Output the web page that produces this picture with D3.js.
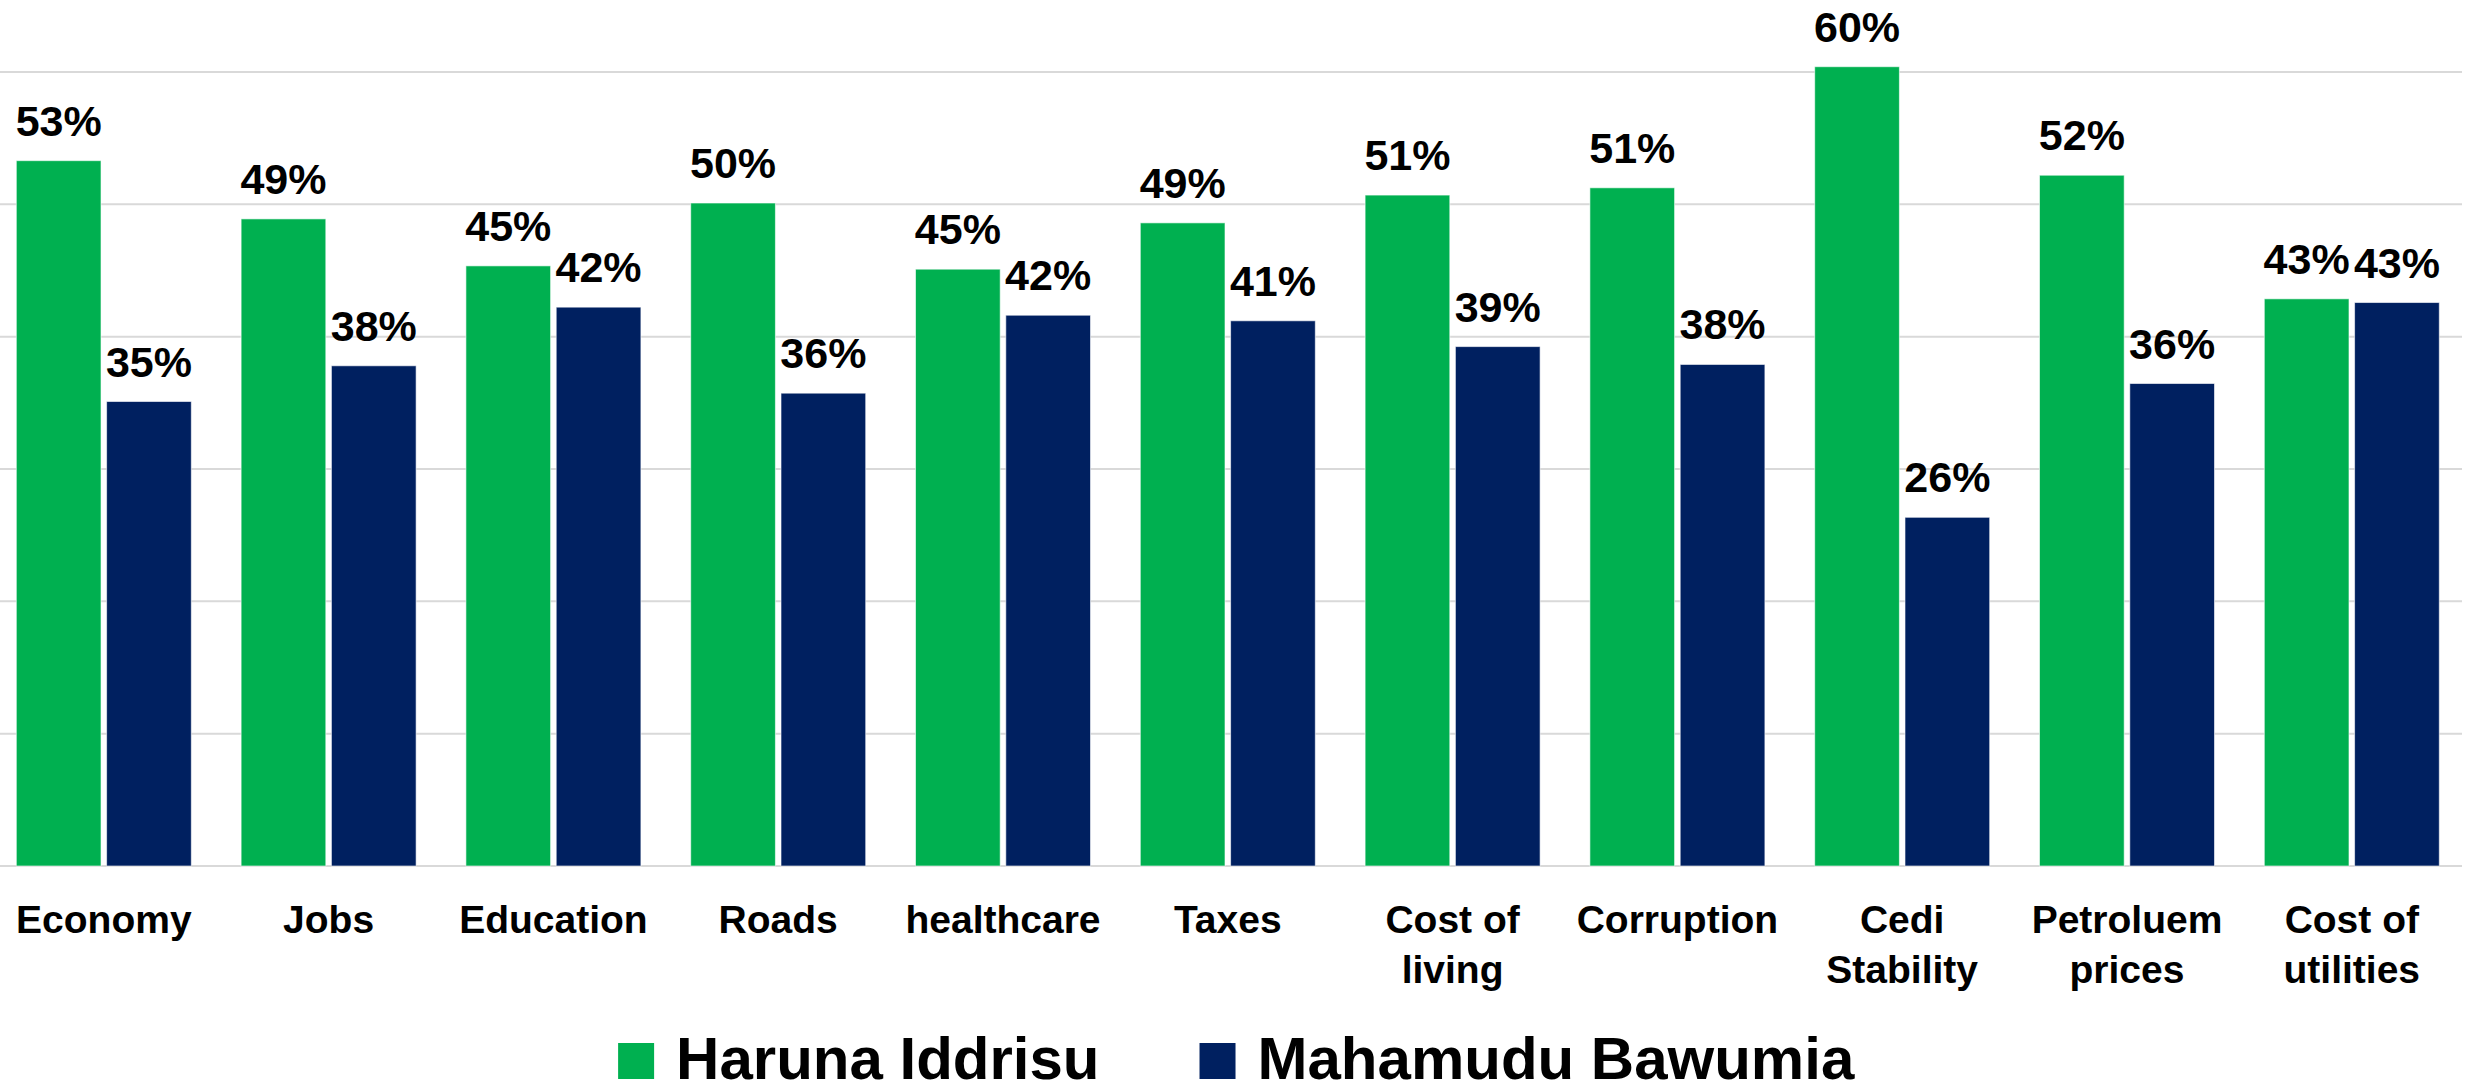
<!DOCTYPE html>
<html>
<head>
<meta charset="utf-8">
<script src="https://cdn.jsdelivr.net/npm/d3@7"></script>
<style>
  body { margin: 0; background: #fff; }
  text { font-family: "Liberation Sans", Arial, sans-serif; font-weight: bold; fill: #000; }
</style>
</head>
<body>
<div id="chart"></div>
<script>
const categories = ["Economy", "Jobs", "Education", "Roads", "healthcare", "Taxes",
    "Cost of living", "Corruption", "Cedi Stability", "Petroluem prices", "Cost of utilities"];
const seriesNames = ["Haruna Iddrisu", "Mahamudu Bawumia"];
const haruna = [0.533, 0.489, 0.4535, 0.501, 0.451, 0.486, 0.507, 0.5125, 0.604, 0.522, 0.4286];
const bawumia = [0.351, 0.378, 0.4223, 0.3573, 0.4162, 0.412, 0.3925, 0.379, 0.2635, 0.3646, 0.4258];
const gridTicks = [0, 0.1, 0.2, 0.3, 0.4, 0.5, 0.6];
const colors = ["#00B050", "#002060"];

const W = 2465, H = 1084;

const svg = d3.select("#chart")
    .append("svg")
    .attr("width", W)
    .attr("height", H);

// chart is cropped a bit on the left, so range starts below 0
const x0 = d3.scaleBand()
    .domain(categories)
    .range([-8.6, 2464.2])
    .paddingInner(0.2215)
    .paddingOuter(0.1108);

const x1 = d3.scaleBand()
    .domain(seriesNames)
    .range([0, x0.bandwidth()])
    .paddingInner(0.062);

const y = d3.scaleLinear()
    .domain([0, 0.6])
    .range([866, 72]);

const color = d3.scaleOrdinal().domain(seriesNames).range(colors);
const fmt = d3.format(".0%");

const data = categories.map((c, i) => ({
    cat: c,
    values: [
        { name: seriesNames[0], value: haruna[i] },
        { name: seriesNames[1], value: bawumia[i] }
    ]
}));

// gridlines
svg.append("g")
    .selectAll("line")
    .data(gridTicks)
    .join("line")
    .attr("x1", 0)
    .attr("x2", 2462)
    .attr("y1", d => y(d))
    .attr("y2", d => y(d))
    .attr("stroke", "#d9d9d9")
    .attr("stroke-width", 2);

const groups = svg.append("g")
    .selectAll("g")
    .data(data)
    .join("g")
    .attr("transform", d => `translate(${x0(d.cat)},0)`);

groups.selectAll("rect")
    .data(d => d.values)
    .join("rect")
    .attr("x", d => x1(d.name))
    .attr("y", d => y(d.value))
    .attr("width", x1.bandwidth())
    .attr("height", d => y(0) - y(d.value))
    .attr("fill", d => color(d.name))
    .attr("stroke", "#ffffff")
    .attr("stroke-opacity", 0.6)
    .attr("stroke-width", 1);

groups.selectAll("text.val")
    .data(d => d.values)
    .join("text")
    .attr("class", "val")
    .attr("x", d => x1(d.name) + x1.bandwidth() / 2)
    .attr("y", d => y(d.value) - 25)
    .attr("text-anchor", "middle")
    .style("font-size", "43px")
    .text(d => fmt(d.value));

// category labels, wrapped to the band step
const maxW = x0.step() - 12;
const catLabels = svg.append("g")
    .selectAll("text")
    .data(categories)
    .join("text")
    .attr("x", d => x0(d) + x0.bandwidth() / 2)
    .attr("y", 933)
    .attr("text-anchor", "middle")
    .style("font-size", "39px");

catLabels.each(function(d) {
    const t = d3.select(this);
    const words = d.split(" ");
    let line = [];
    let lineNo = 0;
    let tspan = t.append("tspan").attr("x", t.attr("x")).attr("dy", 0);
    words.forEach(w => {
        line.push(w);
        tspan.text(line.join(" "));
        if (tspan.node().getComputedTextLength() > maxW && line.length > 1) {
            line.pop();
            tspan.text(line.join(" "));
            line = [w];
            lineNo++;
            tspan = t.append("tspan").attr("x", t.attr("x")).attr("dy", 50).text(w);
        }
    });
});

// legend
const legend = svg.append("g");
const items = legend.selectAll("g")
    .data(seriesNames)
    .join("g");

items.append("rect")
    .attr("width", 36)
    .attr("height", 36)
    .attr("y", 1043)
    .attr("fill", d => color(d));

items.append("text")
    .attr("x", 58)
    .attr("y", 1079)
    .style("font-size", "60px")
    .text(d => d);

let offset = 0;
const widths = [];
items.each(function() {
    widths.push(this.getBBox().width);
});
const gap = 100;
const total = d3.sum(widths) + gap * (widths.length - 1);
offset = W / 2 + 4 - total / 2;
items.attr("transform", (d, i) => {
    const tx = offset;
    offset += widths[i] + gap;
    return `translate(${tx},0)`;
});
</script>
</body>
</html>
